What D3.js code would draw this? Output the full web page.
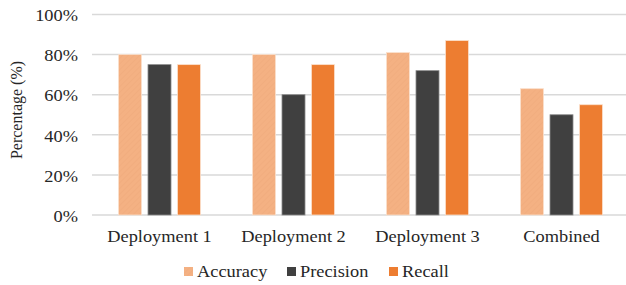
<!DOCTYPE html>
<html>
<head>
<meta charset="utf-8">
<script src="https://cdn.jsdelivr.net/npm/d3@7"></script>
<style>
  body { margin: 0; background: #fff; }
  svg { display: block; }
</style>
</head>
<body>
<script>
// chart data
var categories = ["Deployment 1", "Deployment 2", "Deployment 3", "Combined"];
var series = ["Accuracy", "Precision", "Recall"];
var accuracy = [0.80, 0.80, 0.81, 0.63];
var precision = [0.75, 0.60, 0.72, 0.50];
var recall = [0.75, 0.75, 0.87, 0.55];
var yTicks = [0, 0.2, 0.4, 0.6, 0.8, 1.0];
var colors = ["#F4B183", "#404040", "#ED7D31"];

var values = [accuracy, precision, recall];

var width = 626, height = 285;
var serif = "'Liberation Serif', 'Times New Roman', Times, 'DejaVu Serif', serif";

var svg = d3.select("body").append("svg")
    .attr("width", width)
    .attr("height", height)
    .style("font-family", serif);

// hatch for accuracy bars
var defs = svg.append("defs");
var pat = defs.append("pattern")
    .attr("id", "hatch")
    .attr("patternUnits", "userSpaceOnUse")
    .attr("width", 4).attr("height", 4)
    .attr("patternTransform", "rotate(45)");
pat.append("rect").attr("width", 4).attr("height", 4).attr("fill", colors[0]);
pat.append("line").attr("x1", 0).attr("y1", 0).attr("x2", 0).attr("y2", 4)
    .attr("stroke", "#EEA97B").attr("stroke-width", 1);

var x0 = d3.scaleBand().domain(categories).range([92.5, 628.5]);
var bw = x0.bandwidth();
var x1 = d3.scaleBand().domain(series)
    .range([bw / 2 - 41, bw / 2 + 41])
    .paddingInner(0.22);
var y = d3.scaleLinear().domain([0, 1]).range([215, 14.5]);

// grid
svg.append("g").selectAll("line")
    .data(yTicks)
    .enter().append("line")
    .attr("x1", 92).attr("x2", width)
    .attr("y1", d => y(d)).attr("y2", d => y(d))
    .attr("stroke", "#D9D9D9")
    .attr("stroke-width", 1.5);

// y tick labels
svg.append("g").selectAll("text")
    .data(yTicks)
    .enter().append("text")
    .attr("text-anchor", "end")
    .attr("dominant-baseline", "central")
    .attr("font-size", 17)
    .attr("fill", "#262626")
    .attr("transform", d => "translate(78," + (y(d) + 1) + ") scale(1.08,1)")
    .text(d3.format(".0%"));

// y title
svg.append("text")
    .attr("transform", "translate(22,110) rotate(-90)")
    .attr("text-anchor", "middle")
    .attr("font-size", 16)
    .attr("fill", "#262626")
    .text("Percentage (%)");

// bars
var groups = svg.append("g").selectAll("g")
    .data(categories)
    .enter().append("g")
    .attr("transform", d => "translate(" + x0(d) + ",0)");

groups.selectAll("rect")
    .data((c, ci) => series.map((s, si) => ({ s: s, si: si, v: values[si][ci] })))
    .enter().append("rect")
    .attr("x", d => x1(d.s))
    .attr("width", x1.bandwidth())
    .attr("y", d => y(d.v))
    .attr("height", d => y(0) - y(d.v))
    .attr("fill", d => d.si === 0 ? "url(#hatch)" : colors[d.si])
    .attr("stroke", d => d.si === 1 ? "#8c8c8c" : "#FBE0CC")
    .attr("stroke-width", 0.8);

// x labels
svg.append("g").selectAll("text")
    .data(categories)
    .enter().append("text")
    .attr("text-anchor", "middle")
    .attr("font-size", 17)
    .attr("fill", "#262626")
    .attr("transform", d => "translate(" + (x0(d) + bw / 2) + ",242) scale(1.08,1)")
    .text(d => d);

// legend
var legX = [184, 287, 389];
var leg = svg.append("g").selectAll("g")
    .data(series)
    .enter().append("g")
    .attr("transform", (d, i) => "translate(" + legX[i] + ",267)");
leg.append("rect")
    .attr("width", 9).attr("height", 9)
    .attr("fill", (d, i) => i === 0 ? "url(#hatch)" : colors[i]);
leg.append("text")
    .attr("font-size", 17)
    .attr("fill", "#262626")
    .attr("transform", "translate(13,9.5) scale(1.08,1)")
    .text(d => d);
</script>
</body>
</html>
